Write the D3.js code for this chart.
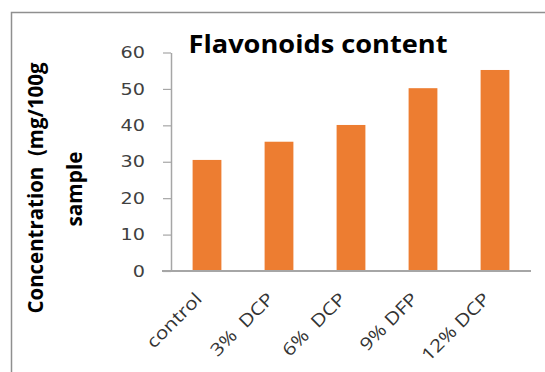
<!DOCTYPE html>
<html>
<head>
<meta charset="utf-8">
<script src="https://cdn.jsdelivr.net/npm/d3@7"></script>
<style>
  html, body { margin: 0; padding: 0; background: #fff; }
  svg { display: block; }
  text { white-space: pre; }
</style>
</head>
<body>
<svg id="chart" width="545" height="372"></svg>
<script>
// Flavonoids content per treatment (mg/100g sample)
const categories = ["control", "3%  DCP", "6%  DCP", "9% DFP", "12% DCP"];
const values = [30.5, 35.5, 40.1, 50.2, 55.2];
const yTicks = [0, 10, 20, 30, 40, 50, 60];
const title = "Flavonoids content";
const yLabelLines = ["Concentration  (mg/100g", "sample"];

const svg = d3.select("#chart");
const W = 545, H = 372;
const plot = { left: 171, right: 531, top: 52.5, bottom: 271 };

// Outer chart frame (runs off the right and bottom edges)
svg.append("rect")
  .attr("x", 11.5).attr("y", 12.5)
  .attr("width", W + 20).attr("height", H + 20)
  .attr("fill", "none").attr("stroke", "#8f8f8f").attr("stroke-width", 1.5);

const x = d3.scaleBand().domain(categories)
  .range([plot.left, plot.right]).paddingInner(0.6).paddingOuter(0.3);
const y = d3.scaleLinear().domain([0, 60]).range([plot.bottom, plot.top]);

// Bars
svg.append("g").selectAll("rect")
  .data(categories.map((c, i) => ({ c, v: values[i] })))
  .join("rect")
  .attr("x", d => x(d.c))
  .attr("y", d => y(d.v))
  .attr("width", x.bandwidth())
  .attr("height", d => y(0) - y(d.v))
  .attr("fill", "#ED7D31");

// Y axis
const yAxis = svg.append("g")
  .attr("transform", `translate(${plot.left},0)`)
  .call(d3.axisLeft(y).tickValues(yTicks).tickSize(8).tickSizeOuter(0).tickPadding(18));
yAxis.select(".domain").attr("stroke", "#a6a6a6").attr("stroke-width", 1.5);
yAxis.selectAll(".tick line").attr("stroke", "#a6a6a6").attr("stroke-width", 1.2);
yAxis.selectAll(".tick text")
  .attr("font-family", "DejaVu Sans").attr("font-size", 16)
  .attr("fill", "#404040")
  .each(function () {
    const w = this.getComputedTextLength();
    d3.select(this).attr("textLength", w * 1.2).attr("lengthAdjust", "spacingAndGlyphs");
  });

// X axis line (no tick marks)
const xAxis = svg.append("g")
  .attr("transform", `translate(0,${plot.bottom})`)
  .call(d3.axisBottom(x).tickSize(0).tickSizeOuter(0));
xAxis.select(".domain").attr("stroke", "#a6a6a6").attr("stroke-width", 1.8)
  .attr("d", `M${plot.left - 9},0H${plot.right}`);
xAxis.selectAll(".tick text")
  .attr("font-family", "Open Sans").attr("font-size", 17.5)
  .attr("fill", "#333")
  .attr("text-anchor", "end")
  .attr("x", 0).attr("y", 0).attr("dy", 0)
  .attr("transform", "translate(-4,29) rotate(-45)")
  .each(function () {
    const w = this.getComputedTextLength();
    d3.select(this).attr("textLength", w * 1.2).attr("lengthAdjust", "spacingAndGlyphs");
  });

// Title
svg.append("text")
  .attr("x", 188.5).attr("y", 53)
  .attr("font-family", "Open Sans").attr("font-weight", 700).attr("font-size", 24.5)
  .attr("fill", "#000")
  .attr("textLength", 259).attr("lengthAdjust", "spacingAndGlyphs")
  .text(title);

// Y axis title, two rotated lines
const yl = svg.append("g").attr("transform", "translate(0,188)");
yl.append("text")
  .attr("transform", "translate(43,0) rotate(-90)")
  .attr("text-anchor", "middle")
  .attr("font-family", "Open Sans").attr("font-weight", 700).attr("font-size", 21)
  .attr("fill", "#000")
  .attr("textLength", 251).attr("lengthAdjust", "spacingAndGlyphs")
  .text(yLabelLines[0]);
yl.append("text")
  .attr("transform", "translate(81.5,1) rotate(-90)")
  .attr("text-anchor", "middle")
  .attr("font-family", "Open Sans").attr("font-weight", 700).attr("font-size", 21)
  .attr("fill", "#000")
  .attr("textLength", 75).attr("lengthAdjust", "spacingAndGlyphs")
  .text(yLabelLines[1]);
</script>
</body>
</html>
